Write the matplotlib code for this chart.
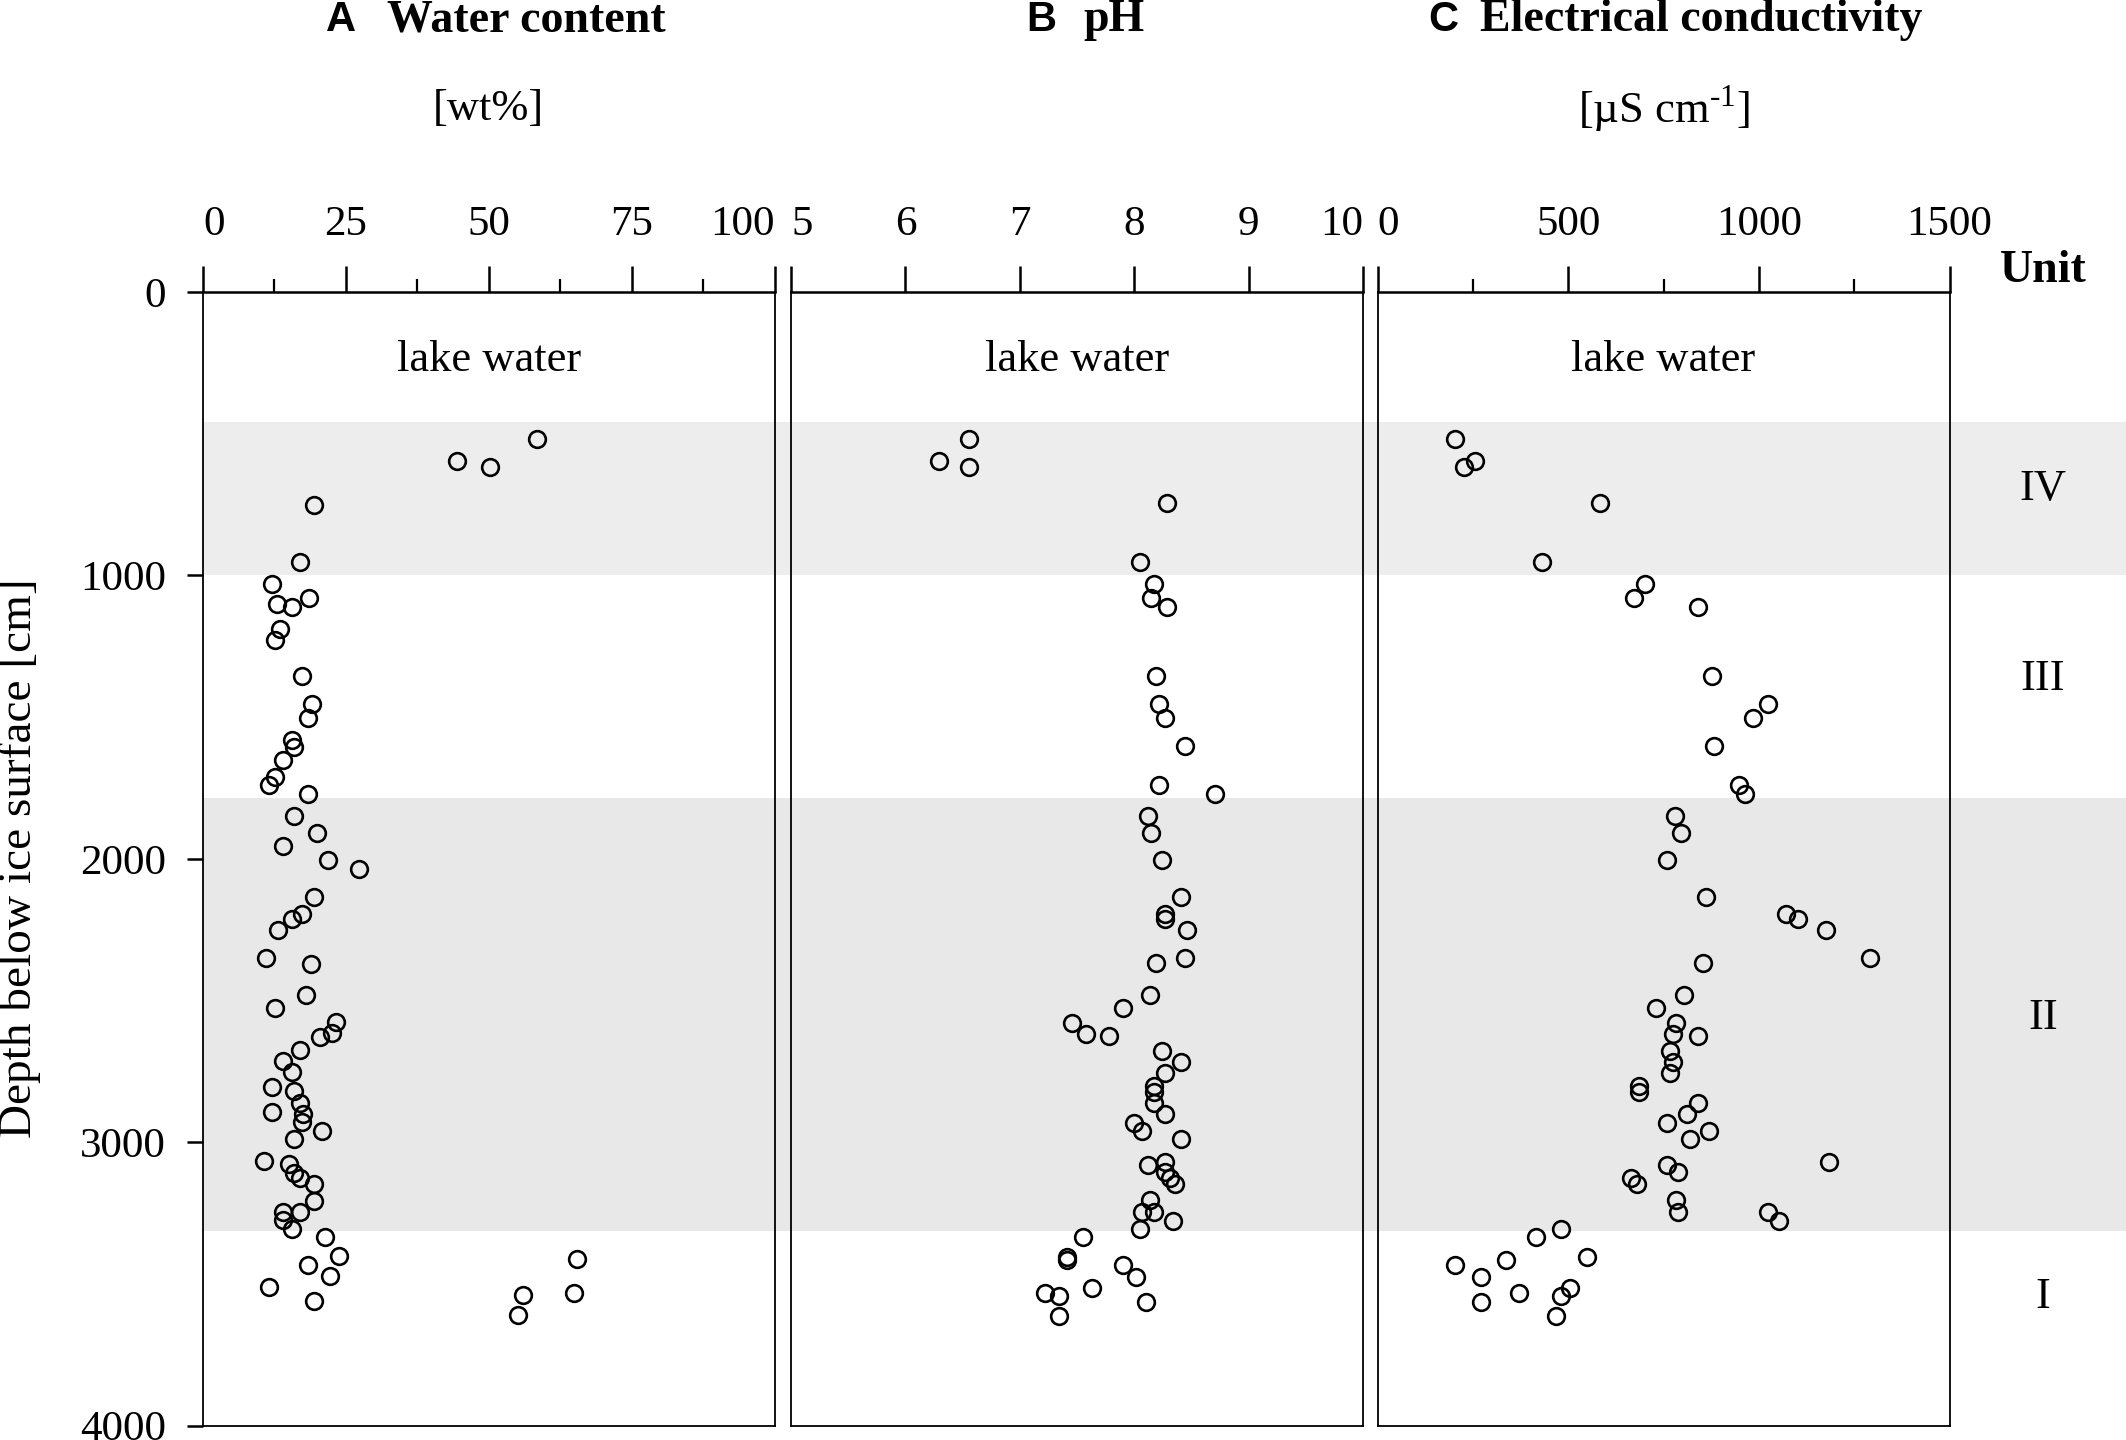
import matplotlib
matplotlib.use('Agg')
import matplotlib.pyplot as plt
from matplotlib.transforms import blended_transform_factory

plt.rcParams['font.family'] = 'Liberation Serif'
plt.rcParams['mathtext.fontset'] = 'custom'
plt.rcParams['mathtext.rm'] = 'Liberation Serif'

# water content samples (own depth list, more samples than pH/EC)
wc_depth = [519, 596, 616, 750, 952, 1030, 1080, 1100, 1110, 1188, 1228,
            1355, 1454, 1505, 1581, 1604, 1652, 1710, 1740, 1770, 1848,
            1908, 1956, 2006, 2035, 2134, 2195, 2213, 2253, 2350, 2370,
            2480, 2527, 2576, 2615, 2628, 2676, 2714, 2752, 2804, 2821,
            2862, 2892, 2900, 2928, 2959, 2989, 3068, 3078, 3108, 3126,
            3147, 3207, 3245, 3245, 3276, 3306, 3334, 3403, 3413, 3432,
            3472, 3512, 3531, 3541, 3560, 3610]
wc = [58.5, 44.4, 50.2, 19.4, 17.0, 12.1, 18.5, 13.0, 15.5, 13.5, 12.6,
      17.4, 19.0, 18.4, 15.5, 16.0, 14.0, 12.6, 11.6, 18.4, 16.0,
      19.9, 14.0, 21.9, 27.3, 19.4, 17.4, 15.5, 13.1, 11.1, 18.9,
      18.0, 12.6, 23.3, 22.5, 20.4, 17.0, 14.0, 15.5, 12.1, 16.0,
      17.0, 12.1, 17.5, 17.4, 20.9, 16.0, 10.7, 15.0, 16.0, 17.0,
      19.5, 19.4, 17.0, 14.0, 14.0, 15.5, 21.3, 23.8, 65.4, 18.4,
      22.3, 11.6, 64.9, 56.0, 19.4, 55.1]

# pH and electrical conductivity share the same samples
chem_depth = [519, 596, 616, 746, 952, 1030, 1080, 1110, 1355, 1454, 1505,
              1602, 1740, 1770, 1848, 1908, 2006, 2134, 2195, 2213, 2251,
              2351, 2369, 2480, 2528, 2578, 2618, 2625, 2677, 2716, 2755,
              2802, 2822, 2862, 2902, 2931, 2960, 2990, 3069, 3081, 3106,
              3128, 3148, 3205, 3247, 3247, 3277, 3307, 3336, 3405, 3416,
              3435, 3475, 3514, 3534, 3543, 3563, 3612]
ph = [6.56, 6.29, 6.56, 8.29, 8.05, 8.17, 8.15, 8.29, 8.19, 8.22, 8.27,
      8.44, 8.22, 8.71, 8.12, 8.15, 8.24, 8.41, 8.27, 8.27, 8.46,
      8.44, 8.19, 8.14, 7.90, 7.46, 7.58, 7.78, 8.24, 8.41, 8.27,
      8.17, 8.17, 8.17, 8.27, 8.00, 8.07, 8.41, 8.27, 8.12, 8.27,
      8.31, 8.36, 8.14, 8.07, 8.17, 8.34, 8.05, 7.55, 7.41, 7.41,
      7.90, 8.02, 7.63, 7.22, 7.34, 8.10, 7.34]
ec = [204, 256, 226, 584, 430, 701, 672, 840, 876, 1023, 985,
      883, 949, 964, 781, 796, 759, 861, 1072, 1103, 1175,
      1292, 854, 803, 731, 782, 774, 840, 767, 774, 767,
      686, 686, 840, 811, 759, 869, 818, 1183, 759, 789,
      664, 679, 782, 789, 1023, 1052, 482, 415, 548, 336,
      204, 270, 505, 372, 482, 270, 467]

# units
band_top = [460, 1785]
band_bottom = [1000, 3315]
band_color = ['#ededed', '#e8e8e8']
unit_names = ['IV', 'III', 'II', 'I']
unit_label_depth = [695, 1365, 2563, 3545]

W, H = 2126, 1440
fig = plt.figure(figsize=(W / 100, H / 100), dpi=100)

top_px, bot_px = 292, 1425.5
y0 = 1 - bot_px / H
hgt = (bot_px - top_px) / H

# background axes for the shaded units
bg = fig.add_axes([203 / W, y0, 1 - 203 / W, hgt], zorder=0)
bg.set_ylim(4000, 0)
bg.set_xlim(0, 1)
bg.axis('off')
for t, b, c in zip(band_top, band_bottom, band_color):
    bg.axhspan(t, b, color=c, lw=0)

panels = [
    dict(left=203, right=774.5, xlim=(0, 100), ticks=[0, 25, 50, 75, 100],
         minor=[12.5, 37.5, 62.5, 87.5], x=wc, y=wc_depth,
         letter='A', title='Water content', unit='[wt%]',
         letter_x=341, title_x=387, last_right=True),
    dict(left=791, right=1363, xlim=(5, 10), ticks=[5, 6, 7, 8, 9, 10],
         minor=[], x=ph, y=chem_depth,
         letter='B', title='pH', unit=None,
         letter_x=1041, title_x=1083, last_right=True),
    dict(left=1377.6, right=1949.6, xlim=(0, 1500), ticks=[0, 500, 1000, 1500],
         minor=[250, 750, 1250], x=ec, y=chem_depth,
         letter='C', title='Electrical conductivity', unit=r'[µS cm$^{\text{-}1}$]',
         letter_x=1443, title_x=1480, last_right=False),
]

axes = []
for i, p in enumerate(panels):
    ax = fig.add_axes([p['left'] / W, y0, (p['right'] - p['left']) / W, hgt], zorder=2)
    ax.set_facecolor('none')
    ax.plot(p['x'], p['y'], 'o', mfc='none', mec='black', ms=12, mew=1.9,
            clip_on=False)
    ax.set_xlim(*p['xlim'])
    ax.set_ylim(4000, 0)
    ax.xaxis.tick_top()
    ax.set_xticks(p['ticks'])
    ax.set_xticklabels([str(t) for t in p['ticks']])
    ax.set_xticks(p['minor'], minor=True)
    ax.tick_params(axis='x', which='major', direction='out', length=18.5,
                   width=1.8, labelsize=31, pad=16)
    ax.tick_params(axis='x', which='minor', direction='out', length=9.5,
                   width=1.6)
    labels = ax.get_xticklabels()
    labels[0].set_ha('left')
    if p['last_right']:
        labels[-1].set_ha('right')
    for s in ['left', 'right', 'bottom']:
        ax.spines[s].set_linewidth(1.3)
    ax.spines['top'].set_linewidth(1.8)
    if i == 0:
        ax.set_yticks([0, 1000, 2000, 3000, 4000])
        ax.tick_params(axis='y', direction='out', length=11.5, width=1.8,
                       labelsize=31, pad=15)
    else:
        ax.set_yticks([])
    mid = sum(p['xlim']) / 2
    ax.text(mid, 240, 'lake water', ha='center', va='center', fontsize=32)

    fig.text(p['letter_x'] / W, 1 - 20 / H, p['letter'], ha='center', va='center',
             fontsize=30, fontweight='bold', family='Liberation Sans')
    fig.text(p['title_x'] / W, 1 - 20 / H, p['title'], ha='left', va='center',
             fontsize=33, fontweight='bold')
    if p['unit']:
        fig.text((p['left'] + p['right']) / 2 / W, 1 - 109 / H, p['unit'],
                 ha='center', va='center', fontsize=32)
    axes.append(ax)

fig.text(20 / W, 1 - 858 / H, 'Depth below ice surface [cm]', rotation=90,
         ha='center', va='center', fontsize=34)

# unit column on the right
tr = blended_transform_factory(fig.transFigure, axes[2].transData)
fig.text(2043 / W, 1 - 271 / H, 'Unit', ha='center', va='center',
         fontsize=33, fontweight='bold')
for name, d in zip(unit_names, unit_label_depth):
    axes[2].text(2043 / W, d, name, transform=tr, ha='center', va='center',
                 fontsize=32)

fig.savefig('out.png', dpi=100)
